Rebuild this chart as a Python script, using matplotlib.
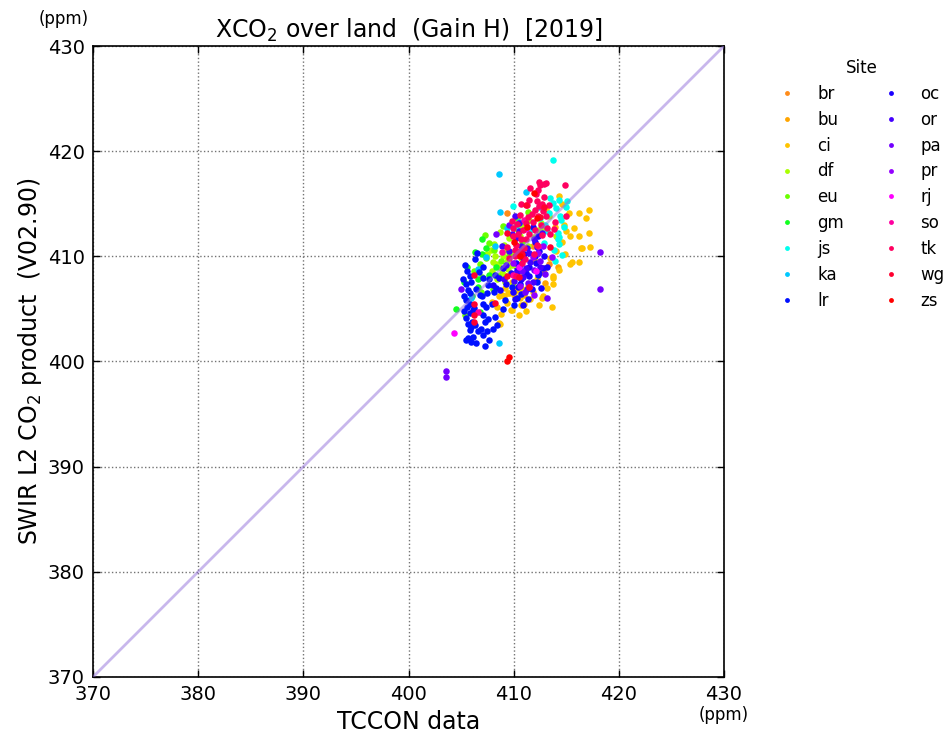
import matplotlib
matplotlib.use("Agg")
import matplotlib.pyplot as plt
from matplotlib.lines import Line2D

plt.rcParams['font.family'] = ['DejaVu Sans']

# ---- TCCON site colocations: (TCCON XCO2, SWIR L2 XCO2) in ppm ----
sites = ['br', 'bu', 'ci', 'df', 'eu', 'gm', 'js', 'ka', 'lr',
         'oc', 'or', 'pa', 'pr', 'rj', 'so', 'tk', 'wg', 'zs']

site_colors = ['#ff8c1a', '#ffa500', '#ffc400', '#aaff00', '#6aff00', '#12ff20',
               '#00ffee', '#00c8ff', '#0010ff', '#1a00ff', '#4400ff', '#7300ff',
               '#9400ff', '#ff00ff', '#ff00a0', '#ff0060', '#ff0030', '#ff0000']

br = [(409.4, 414.1), (411.8, 411.0), (413.4, 409.3)]

bu = [(412.9, 408.4), (414.2, 409.0), (411.0, 406.3), (413.0, 407.5), (410.2, 407.0)]

ci = [(414.3, 415.7), (415.3, 414.1), (416.2, 414.1), (417.2, 414.4), (417.2, 412.2),
      (416.2, 411.9), (416.4, 410.8), (417.3, 410.9), (415.5, 409.5), (416.2, 409.5),
      (414.3, 408.7), (413.7, 407.9), (412.8, 406.2), (413.6, 405.2), (408.6, 403.7),
      (409.7, 404.9), (409.1, 406.2), (408.6, 406.2), (415.4, 411.9), (416.5, 410.8),
      (415.4, 409.3), (413.7, 408.1), (413.7, 407.4), (412.7, 406.0), (411.8, 406.6),
      (411.0, 405.5), (409.5, 406.5), (410.0, 406.3), (410.3, 406.8), (409.2, 407.0),
      (409.8, 407.6), (410.6, 406.0), (411.4, 407.2), (412.2, 407.8), (412.9, 408.9),
      (413.5, 409.8), (414.0, 410.5), (414.6, 411.4), (413.9, 412.8), (414.8, 413.0),
      (415.0, 412.4), (414.1, 411.8), (412.0, 409.6), (411.2, 404.8), (408.8, 404.5),
      (407.9, 405.7), (413.1, 414.5), (414.6, 415.0), (410.7, 405.4), (408.9, 406.3),
      (409.6, 406.5), (409.8, 404.9), (408.7, 403.6), (410.8, 406.9), (411.6, 405.9),
      (409.4, 405.6), (412.4, 405.4), (413.2, 407.0), (414.9, 410.2), (416.9, 413.6),
      (415.7, 412.7), (410.5, 404.4), (408.4, 405.2)]

df = [(409.1, 411.1), (409.3, 410.6), (409.0, 410.0), (408.6, 409.0), (409.5, 408.8),
      (410.4, 409.0), (410.7, 409.8), (409.9, 407.3), (410.0, 410.4), (412.6, 413.2),
      (413.4, 413.8), (414.0, 411.9), (407.8, 410.6), (407.5, 410.2), (409.2, 407.6),
      (408.9, 408.4), (408.3, 409.3), (409.6, 411.7), (410.3, 412.6), (411.5, 413.5),
      (408.7, 412.3), (410.9, 410.9), (411.9, 411.8), (408.4, 407.8), (407.9, 408.6),
      (410.1, 408.0), (411.0, 408.3), (412.3, 412.5), (409.4, 409.6), (408.1, 411.2),
      (408.2, 410.0), (409.8, 409.2), (410.6, 411.9), (408.0, 409.5), (409.1, 408.2),
      (411.4, 411.0), (412.9, 412.6), (410.8, 412.9)]

eu = [(407.7, 411.3), (408.1, 410.6), (406.8, 409.3), (407.4, 409.8), (406.2, 408.6),
      (407.0, 408.0), (408.5, 408.1), (409.0, 412.9), (410.3, 413.6), (411.4, 414.2),
      (405.4, 404.4), (406.9, 406.6), (408.0, 406.9), (409.6, 410.1), (407.3, 412.0),
      (410.8, 411.4), (408.8, 409.6)]

gm = [(404.5, 405.0), (406.6, 407.1), (406.6, 407.8), (407.7, 408.2), (406.8, 404.7),
      (407.0, 411.6), (406.3, 410.4), (405.3, 407.6), (405.6, 409.0), (406.0, 406.2),
      (408.3, 409.0), (407.4, 410.8), (407.0, 410.2)]

js = [(413.5, 415.5), (413.7, 415.1), (414.3, 415.4), (414.0, 414.6), (413.4, 414.1),
      (414.5, 413.5), (414.2, 412.2), (414.2, 411.6), (409.9, 414.8), (413.7, 419.2),
      (414.4, 413.8), (414.3, 411.8), (414.3, 411.2), (414.6, 410.1), (413.0, 413.0),
      (412.7, 414.8), (415.0, 414.7), (413.8, 410.6), (412.9, 411.3), (411.6, 412.5),
      (410.2, 412.9), (414.8, 412.8), (413.2, 412.4), (412.5, 413.6), (415.1, 415.3),
      (413.9, 409.6)]

ka = [(408.6, 417.8), (411.2, 416.1), (408.7, 414.2), (408.2, 411.0), (406.6, 408.8),
      (408.6, 401.8), (410.5, 413.3), (409.4, 412.7), (405.9, 406.0), (407.4, 409.9),
      (412.4, 414.7)]

lr = [(407.05, 409.0), (405.85, 408.1), (405.5, 407.4), (405.7, 406.8), (405.85, 406.5),
      (405.5, 405.8), (405.85, 405.5), (406.2, 405.1), (405.85, 404.6), (405.5, 404.1),
      (406.0, 403.8), (406.3, 403.5), (405.85, 403.0), (405.7, 402.2), (405.5, 402.0),
      (406.4, 401.8), (407.3, 401.5), (407.7, 402.0), (407.1, 402.5), (407.1, 404.4),
      (407.3, 403.8), (407.6, 404.0), (408.2, 404.2), (408.4, 403.5), (407.4, 405.2),
      (407.9, 405.5), (407.1, 405.5), (408.1, 406.6), (407.6, 407.3), (407.1, 407.9),
      (407.7, 407.8), (408.2, 408.2), (410.0, 405.4), (410.3, 406.0), (409.8, 407.1),
      (410.6, 407.4), (412.2, 407.6), (412.3, 408.2), (405.4, 409.2), (406.3, 409.7),
      (405.6, 405.2), (406.1, 404.9), (405.9, 403.3), (406.6, 402.9), (405.3, 406.2),
      (406.8, 406.3), (405.2, 407.8), (406.5, 410.3), (405.6, 408.6), (405.3, 404.8),
      (405.7, 403.6), (406.1, 402.3), (405.9, 401.9), (406.9, 403.1), (407.5, 402.9),
      (408.0, 403.1), (407.0, 406.2), (407.5, 406.5), (408.3, 407.0), (406.4, 406.9),
      (405.9, 407.6), (406.7, 408.5), (409.2, 405.8), (409.0, 405.0)]

oc = [(412.3, 411.9), (412.0, 411.4), (412.4, 410.5), (412.9, 410.0), (412.1, 409.4),
      (411.5, 409.0), (411.2, 408.4), (410.7, 407.8), (410.4, 407.1), (410.7, 406.4),
      (410.1, 405.9), (410.9, 405.4), (411.5, 408.1), (412.4, 408.4), (410.2, 409.4),
      (409.7, 408.4), (408.6, 407.9), (408.0, 407.3), (411.0, 410.2), (413.2, 409.0),
      (412.6, 407.0), (409.0, 408.9), (411.8, 412.8), (410.3, 408.7), (409.3, 407.4),
      (411.7, 406.9), (410.8, 410.7), (412.8, 408.9), (409.9, 406.6), (411.4, 405.9),
      (412.0, 410.0), (408.7, 406.8), (410.6, 409.2)]

or_ = [(411.2, 408.9), (411.6, 409.5), (410.7, 411.0), (411.5, 410.3), (411.8, 407.6),
       (410.2, 411.7), (410.5, 412.4), (410.1, 413.8), (410.5, 413.2), (409.6, 410.5),
       (410.9, 409.8), (412.2, 410.9), (409.3, 409.2), (411.3, 406.9), (410.0, 407.7),
       (412.7, 412.2), (408.9, 411.0), (410.9, 408.0), (411.9, 411.6), (409.8, 412.1),
       (411.3, 410.8), (410.3, 408.4), (412.5, 409.0), (409.1, 407.8)]

pa = [(418.2, 410.4), (418.2, 406.9), (413.2, 406.0), (408.3, 412.1), (403.6, 399.1),
      (403.6, 398.5), (405.0, 406.9), (411.4, 407.5), (411.9, 408.7), (410.8, 408.6),
      (412.5, 409.6), (411.1, 406.6), (410.4, 410.1), (413.0, 408.3), (409.6, 413.0)]

pr = [(411.8, 409.9), (412.8, 411.0), (410.6, 407.2), (411.9, 406.3), (412.3, 410.3),
      (409.9, 409.4), (413.6, 409.9)]

rj = [(404.3, 402.7), (410.5, 409.0), (411.2, 412.6), (412.1, 408.6)]

so = [(406.6, 404.7), (409.9, 408.2), (411.0, 413.5), (412.3, 411.0), (408.9, 410.4)]

tk = [(412.4, 417.1), (412.5, 416.8), (412.9, 416.9), (414.9, 416.8), (412.3, 416.3),
      (412.1, 415.9), (412.2, 415.3), (412.4, 414.8), (412.0, 414.4), (412.8, 414.3),
      (412.3, 413.8), (413.1, 413.8), (411.8, 413.3), (412.6, 413.0), (411.2, 413.2),
      (410.9, 412.5), (410.4, 412.1), (410.7, 411.6), (410.2, 411.1), (410.1, 410.6),
      (410.5, 410.5), (409.9, 411.9), (409.9, 412.7), (410.1, 410.0), (411.2, 411.6),
      (411.5, 412.1), (413.2, 412.7), (413.5, 412.1), (415.0, 413.8), (411.5, 415.4),
      (411.3, 414.9), (413.1, 417.0), (410.2, 408.1), (411.5, 407.1), (411.7, 414.0),
      (412.9, 415.6), (411.0, 410.8), (412.0, 412.5), (409.6, 409.8), (410.6, 413.9),
      (411.9, 410.2), (413.9, 413.3), (410.8, 409.4), (409.4, 410.9), (412.7, 412.0),
      (411.6, 416.5), (412.7, 415.0), (411.4, 413.7), (410.3, 413.1), (413.4, 414.9),
      (412.2, 411.1), (409.8, 413.4), (413.8, 412.6), (411.1, 409.7), (410.7, 415.0)]

wg = [(406.2, 405.5), (406.2, 404.4), (406.2, 403.8), (406.2, 408.2), (409.4, 408.1),
      (408.2, 405.6), (410.5, 408.0), (411.5, 407.1), (409.4, 412.2), (412.5, 413.7),
      (411.2, 414.9), (413.5, 410.9), (410.8, 410.2), (412.9, 414.7)]

zs = [(409.6, 400.4), (409.4, 400.0), (410.6, 410.0), (411.3, 412.8), (412.2, 413.6),
      (411.9, 416.0), (410.0, 411.4)]

site_data = [br, bu, ci, df, eu, gm, js, ka, lr, oc, or_, pa, pr, rj, so, tk, wg, zs]

axis_min, axis_max = 370, 430
tick_values = [370, 380, 390, 400, 410, 420, 430]

fig = plt.figure(figsize=(9.5, 7.36), dpi=100)
fig.patch.set_facecolor('white')
ax = fig.add_axes([0.0979, 0.0802, 0.6642, 0.8573])

for name, color, pts in zip(sites, site_colors, site_data):
    xs = [p[0] for p in pts]
    ys = [p[1] for p in pts]
    ax.scatter(xs, ys, s=22, c=color, linewidths=0, label=name, zorder=2)

# 1:1 reference line
ax.plot([axis_min, axis_max], [axis_min, axis_max], color='mediumpurple',
        alpha=0.5, lw=2.0, zorder=3)

ax.set_xlim(axis_min, axis_max)
ax.set_ylim(axis_min, axis_max)
ax.set_xticks(tick_values)
ax.set_yticks(tick_values)
ax.tick_params(direction='in', top=True, right=True, length=5, width=1,
               labelsize=14, pad=6)
ax.grid(True, color='0.45', linestyle=':', linewidth=1.0)
ax.set_axisbelow(True)
for sp in ax.spines.values():
    sp.set_linewidth(1.2)

ax.set_title('XCO$_2$ over land  (Gain H)  [2019]', fontsize=17, pad=6)
ax.set_xlabel('TCCON data', fontsize=17, labelpad=4)
ax.set_ylabel('SWIR L2 CO$_2$ product  (V02.90)', fontsize=17, labelpad=3)

fig.text(0.067, 0.974, '(ppm)', fontsize=12, ha='center', va='center')
fig.text(0.762, 0.029, '(ppm)', fontsize=12, ha='center', va='center')

handles = [Line2D([], [], linestyle='none', marker='o', markersize=3.5,
                  markerfacecolor=c, markeredgewidth=0) for c in site_colors]
leg = fig.legend(handles, sites, title='Site', ncol=2, frameon=False,
                 loc='upper left', bbox_to_anchor=(0.804, 0.94),
                 fontsize=12, title_fontsize=12, handlelength=1.0,
                 handletextpad=1.3, columnspacing=2.3, labelspacing=0.47)

fig.savefig('out.png', dpi=100, facecolor='white')
